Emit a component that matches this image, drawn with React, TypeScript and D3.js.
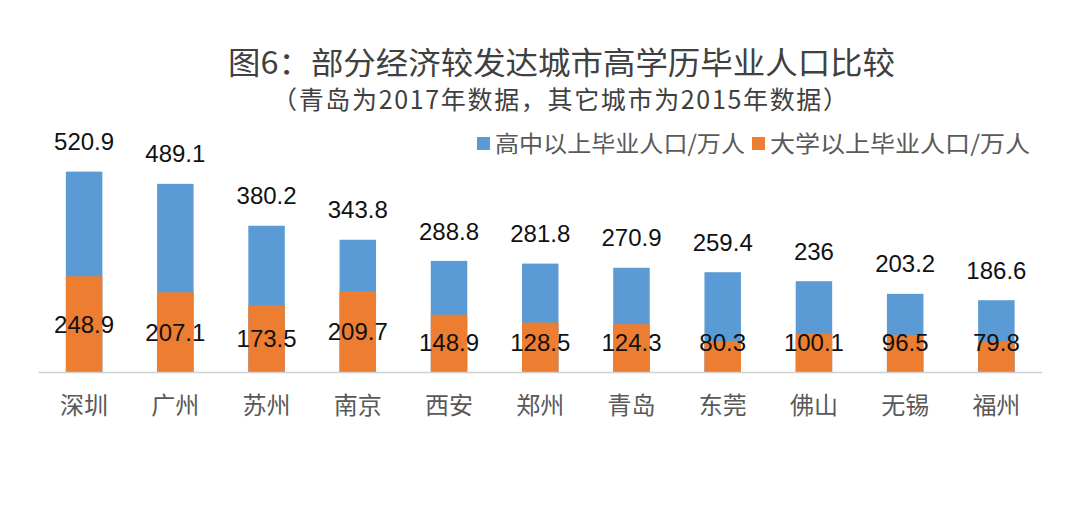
import React from "react";
import * as d3 from "d3";

const cities = ["深圳", "广州", "苏州", "南京", "西安", "郑州", "青岛", "东莞", "佛山", "无锡", "福州"];
const highSchool = [520.9, 489.1, 380.2, 343.8, 288.8, 281.8, 270.9, 259.4, 236, 203.2, 186.6];
const university = [248.9, 207.1, 173.5, 209.7, 148.9, 128.5, 124.3, 80.3, 100.1, 96.5, 79.8];
const seriesNames = ["高中以上毕业人口/万人", "大学以上毕业人口/万人"];
const title = "图6：部分经济较发达城市高学历毕业人口比较";
const subtitle = "（青岛为2017年数据，其它城市为2015年数据）";

const W = 1080;
const H = 509;
const BLUE = "#5B9BD5";
const ORANGE = "#ED7D31";
const NUM_FONT = "'Liberation Sans', Arial, Helvetica, sans-serif";
const CJK_FONT = "'Noto Sans CJK SC', sans-serif";

export default function App() {
  const x = d3.scaleBand<string>().domain(cities).range([38.5, 1042]).paddingInner(0.6).paddingOuter(0.3);
  const y = d3.scaleLinear().domain([0, 600]).range([372, 141.2]);
  const bw = x.bandwidth();
  const y0 = y(0);

  return (
    <svg width={W} height={H} style={{ position: "absolute", left: 0, top: 0, background: "#fff" }}>
      <rect x={0} y={0} width={W} height={H} fill="#fff" />
      <text x={228} y={74} textLength={667} lengthAdjust="spacingAndGlyphs" fontFamily={CJK_FONT} fontSize={31} fill="#404040">{title}</text>
      <text x={272} y={109} textLength={576} lengthAdjust="spacing" fontFamily={CJK_FONT} fontSize={25} fill="#404040">{subtitle}</text>

      {/* legend */}
      <rect x={477} y={137} width={13} height={13} fill={BLUE} />
      <text x={495} y={152} textLength={250} lengthAdjust="spacingAndGlyphs" fontFamily={CJK_FONT} fontSize={23} fill="#595959">{seriesNames[0]}</text>
      <rect x={752} y={137} width={13} height={13} fill={ORANGE} />
      <text x={770} y={152} textLength={260} lengthAdjust="spacingAndGlyphs" fontFamily={CJK_FONT} fontSize={23} fill="#595959">{seriesNames[1]}</text>

      {cities.map((c, i) => {
        const bx = x(c)!;
        const cx = bx + bw / 2;
        const yh = y(highSchool[i]);
        const yu = y(university[i]);
        const uLabelY = Math.min((yu + y0) / 2, 342);
        return (
          <g key={c}>
            <rect x={bx} y={yh} width={bw} height={y0 - yh} fill={BLUE} />
            <rect x={bx} y={yu} width={bw} height={y0 - yu} fill={ORANGE} />
            <text x={cx} y={yh - 30} dy="0.36em" textAnchor="middle" fontFamily={NUM_FONT} fontSize={24} fill="#111">{highSchool[i]}</text>
            <text x={cx} y={uLabelY} dy="0.36em" textAnchor="middle" fontFamily={NUM_FONT} fontSize={24} fill="#111">{university[i]}</text>
            <text x={cx} y={405} dy="0.36em" textAnchor="middle" fontFamily={CJK_FONT} fontSize={24} fill="#595959">{c}</text>
          </g>
        );
      })}
      <line x1={38.5} x2={1042} y1={y0 + 0.5} y2={y0 + 0.5} stroke="#d0d0d0" strokeWidth={1.5} />
    </svg>
  );
}
